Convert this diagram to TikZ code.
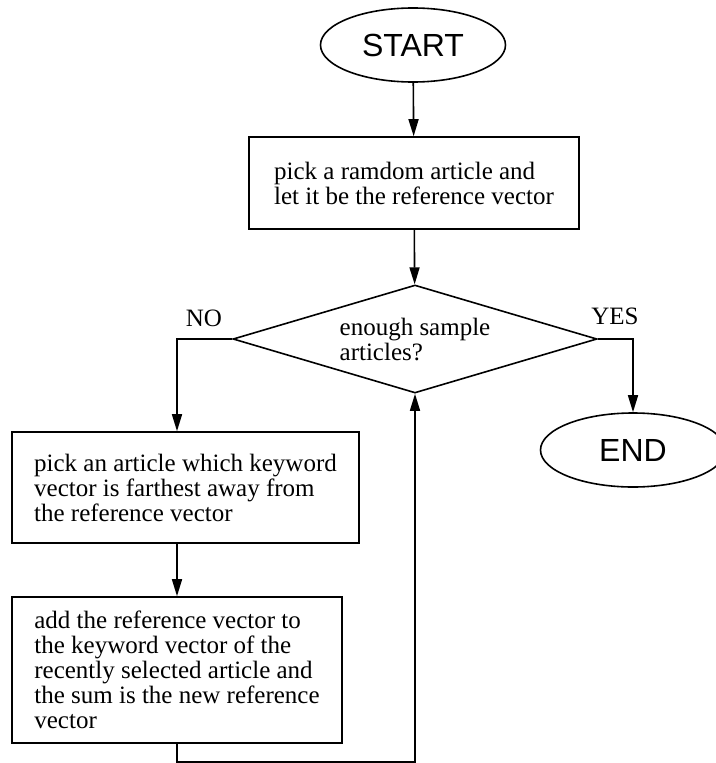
\documentclass[tikz,border=0pt]{standalone}
\usepackage{fontspec}
\setmainfont{Liberation Serif}
\newfontfamily\headfont{Liberation Sans}
\usetikzlibrary{shapes.geometric, arrows.meta}
\newcommand{\flowfont}{\fontsize{25}{25}\selectfont}
\tikzstyle{flowbox}=[rectangle, draw, align=left, inner sep=0pt, minimum width=330pt, minimum height=92pt, font=\flowfont]
\tikzstyle{flowend}=[ellipse, draw, inner sep=0pt, minimum width=185pt, minimum height=74pt, font=\headfont\fontsize{32}{32}\selectfont]
\tikzstyle{flowtest}=[diamond, draw, aspect=3.37, inner sep=0pt, minimum width=364pt, minimum height=108pt, align=left, font=\flowfont]
\newcommand{\flowbox}{\node[flowbox]}
\newcommand{\flowend}{\node[flowend]}
\newcommand{\flowtest}{\node[flowtest]}

\begin{document}
\begin{tikzpicture}[x=1pt, y=-1pt, line width=1.6pt, >={Triangle[length=17pt,width=10pt]}]
\useasboundingbox (0,0) rectangle (715,763);
\flowend (start) at (413,45) {START};
\flowbox (pick) at (414,183) {pick a ramdom article and\\let it be the reference vector};
\flowtest (test) at (415,339) {enough sample\\articles?};
\flowend (end) at (633,450) {END};
\flowbox[minimum width=347pt, minimum height=111pt] (far) at (185.5,487.5) {pick an article which keyword\\vector is farthest away from\\the reference vector};
\flowbox[minimum height=146pt] (add) at (177,670) {add the reference vector to\\the keyword vector of the\\recently selected article and\\the sum is the new reference\\vector};
\node[font=\flowfont] (no) at (204,318) {NO};
\node[font=\flowfont] (yes) at (615,316) {YES};
\coordinate (loop) at (177,762);
\draw[->] (start) -- (pick);
\draw[->] (pick) -- (test);
\draw[->] (test.west) -| (far.north -| add);
\draw[->] (test.east) -| (end.north);
\draw[->] (far.south -| add) -- (add.north);
\draw[->] (add.south) -- (loop) -| (test.south);
\end{tikzpicture}
\end{document}
